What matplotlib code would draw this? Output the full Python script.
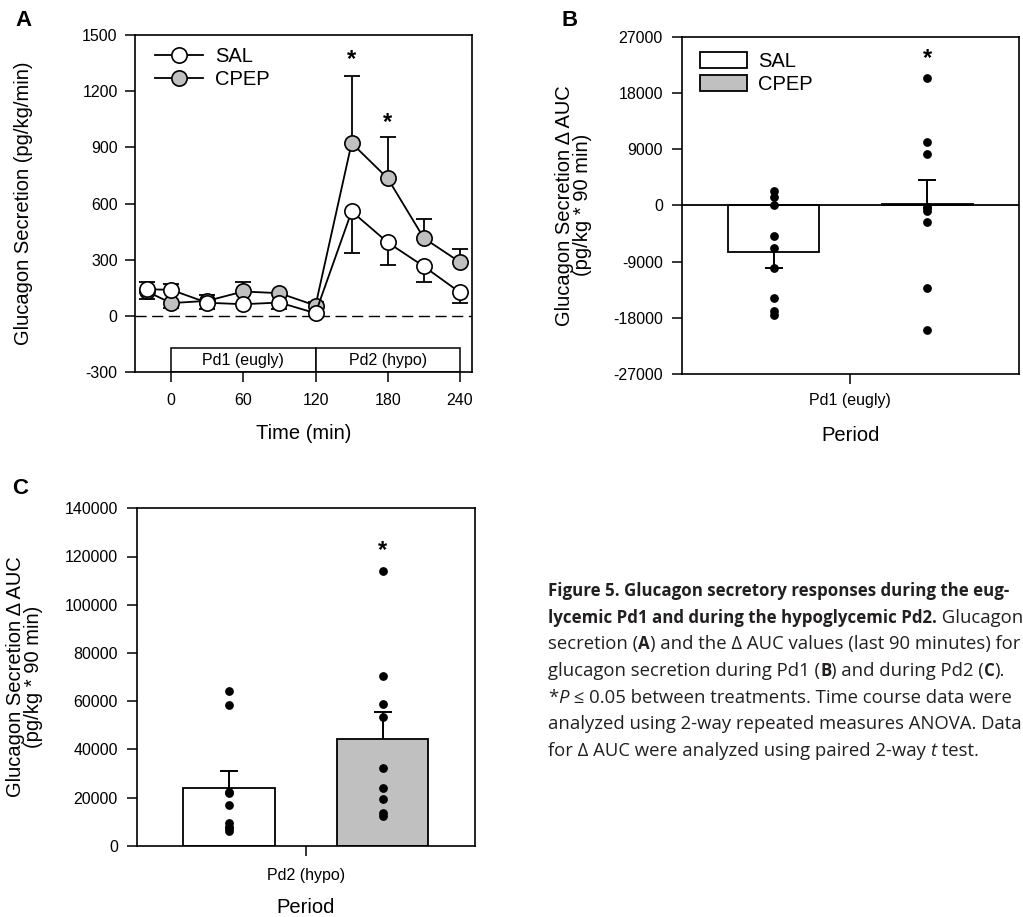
import numpy as np
import matplotlib
matplotlib.use("Agg")
import matplotlib.pyplot as plt
from matplotlib.patches import Rectangle, Patch
from matplotlib.lines import Line2D

plt.rcParams['font.family'] = ['Liberation Sans', 'DejaVu Sans']
plt.rcParams['axes.unicode_minus'] = False

# ---- panel A: time course ----
times = np.array([-20, 0, 30, 60, 90, 120, 150, 180, 210, 240])
sal_mean = np.array([142, 139, 70, 62, 71, 14, 558, 392, 264, 125])
sal_err_lo = np.array([53, 0, 33, 0, 35, 0, 223, 119, 84, 54])
sal_err_hi = np.array([38, 32, 0, 0, 0, 0, 0, 0, 0, 0])
cpep_mean = np.array([130, 68, 80, 130, 121, 55, 923, 734, 415, 287])
cpep_err_lo = np.array([0, 27, 0, 0, 0, 0, 0, 0, 0, 0])
cpep_err_hi = np.array([0, 0, 32, 53, 0, 18, 357, 221, 104, 69])
star_times = [150, 180]
star_y = [1370, 1035]
periods = ["Pd1 (eugly)", "Pd2 (hypo)"]
period_edges = [0, 120, 240]

# ---- panel B: delta AUC Pd1 ----
b_sal_pts = [2300, 1400, 50, -4900, -6800, -10100, -14900, -16900, -17600]
b_cpep_pts = [20400, 10100, 8200, -300, -500, -900, -2700, -13300, -20000]
b_means = [-7500, 150]
b_sems = [2580, 3900]
b_star = 23500

# ---- panel C: delta AUC Pd2 ----
c_sal_pts = [64000, 58200, 22400, 21700, 16900, 9300, 7900, 7400, 6200]
c_cpep_pts = [114100, 70600, 58700, 53300, 32400, 23800, 19200, 13400, 12300]
c_means = [23800, 44100]
c_sems = [7200, 11200]
c_star = 122300

groups = ["SAL", "CPEP"]
colors = ["white", "#c0c0c0"]
W, H = 1023, 917

fig = plt.figure(figsize=(W / 100, H / 100), dpi=100)

def px_axes(l, t, r, b):
    return fig.add_axes([l / W, 1 - b / H, (r - l) / W, (b - t) / H])

def style_axes(ax):
    for s in ax.spines.values():
        s.set_linewidth(1.2)
    ax.tick_params(direction='out', length=7, width=1.1, labelsize=11.5)

def caps(ax, x, y, mask):
    ax.plot(x[mask], y[mask], linestyle='none', marker='_', markersize=12,
            markeredgewidth=1.3, color='black', zorder=2)

# ===== A =====
axA = px_axes(135, 35, 472, 372)
style_axes(axA)
axA.set_xlim(-30, 250)
axA.set_ylim(-300, 1500)
axA.set_yticks(np.arange(-300, 1501, 300))
axA.set_xticks(np.arange(0, 241, 60))
axA.tick_params(axis='y', pad=5.5)
axA.tick_params(axis='x', pad=8)
axA.axhline(0, color='black', linewidth=1.0, dashes=(8, 4), zorder=0)

for mean, lo, hi, col, z in [(cpep_mean, cpep_err_lo, cpep_err_hi, colors[1], 3),
                              (sal_mean, sal_err_lo, sal_err_hi, colors[0], 5)]:
    axA.errorbar(times, mean, yerr=[lo, hi], fmt='none', ecolor='black',
                 elinewidth=1.3, capsize=0, zorder=z - 1)
    caps(axA, times, mean + hi, hi > 0)
    caps(axA, times, mean - lo, lo > 0)
    axA.plot(times, mean, color='black', linewidth=1.3, marker='o', markersize=11,
             markerfacecolor=col, markeredgecolor='black', markeredgewidth=1.2, zorder=z)

for t, y in zip(star_times, star_y):
    axA.text(t, y, "*", ha='center', va='center', fontsize=17, fontweight='bold')

for i, lab in enumerate(periods):
    x0, x1 = period_edges[i], period_edges[i + 1]
    axA.add_patch(Rectangle((x0, -300), x1 - x0, 127, facecolor='white',
                            edgecolor='black', linewidth=1.1, zorder=1))
    axA.text((x0 + x1) / 2, -236, lab, ha='center', va='center', fontsize=11.5)

axA.set_ylabel("Glucagon Secretion (pg/kg/min)", fontsize=14.5)
axA.yaxis.set_label_coords(-0.303, 0.5)
axA.set_xlabel("Time (min)", fontsize=14.5)
axA.xaxis.set_label_coords(0.5, -0.155)

handles = [Line2D([], [], color='black', linewidth=1.3, marker='o', markersize=11,
                  markerfacecolor=c, markeredgecolor='black', markeredgewidth=1.2)
           for c in colors]
axA.legend(handles, groups, loc='upper left', bbox_to_anchor=(0.059, 0.965),
           frameon=False, fontsize=14.5, handlelength=2.4, handletextpad=0.6,
           labelspacing=0.2, borderpad=0, borderaxespad=0)

# ===== bar panels =====
bar_x = [-0.455, 0.455]

def bar_panel(ax, pts_list, means, sems, star, ylim, yticks, cat):
    style_axes(ax)
    ax.set_xlim(-1, 1)
    ax.set_ylim(*ylim)
    ax.set_yticks(yticks)
    ax.set_xticks([0])
    ax.set_xticklabels([cat])
    ax.tick_params(axis='y', pad=6.5)
    for x, m, s, c, pts in zip(bar_x, means, sems, colors, pts_list):
        ax.bar(x, m, width=0.54, color=c, edgecolor='black', linewidth=1.3, zorder=2)
        d = 1 if m >= 0 else -1
        ax.errorbar([x], [m], yerr=[[s if d < 0 else 0], [s if d > 0 else 0]],
                    fmt='none', ecolor='black', elinewidth=1.4, capsize=0, zorder=3)
        ax.plot([x], [m + d * s], linestyle='none', marker='_', markersize=13,
                markeredgewidth=1.4, color='black', zorder=3)
        ax.scatter([x] * len(pts), pts, s=28, color='black', zorder=4)
    ax.text(bar_x[1], star, "*", ha='center', va='center', fontsize=17, fontweight='bold')
    ax.set_xlabel("Period", fontsize=14.5)

axB = px_axes(681.7, 36.7, 1019, 374)
bar_panel(axB, [b_sal_pts, b_cpep_pts], b_means, b_sems, b_star,
          (-27000, 27000), np.arange(-27000, 27001, 9000), "Pd1 (eugly)")
axB.axhline(0, color='black', linewidth=1.3, zorder=2.5)
axB.tick_params(axis='x', pad=6.5)
axB.set_ylabel("Glucagon Secretion \u0394 AUC\n(pg/kg * 90 min)", fontsize=14.5,
               linespacing=0.95)
axB.yaxis.set_label_coords(-0.266, 0.5)
axB.xaxis.set_label_coords(0.5, -0.155)
axB.legend([Patch(facecolor=c, edgecolor='black', linewidth=1.3) for c in colors], groups,
           loc='upper left', bbox_to_anchor=(0.054, 0.955), frameon=False, fontsize=14.5,
           handlelength=2.35, handleheight=0.85, handletextpad=0.55,
           labelspacing=0.2, borderpad=0, borderaxespad=0)

axC = px_axes(136.7, 508.3, 475, 845.7)
bar_panel(axC, [c_sal_pts, c_cpep_pts], c_means, c_sems, c_star,
          (0, 140000), np.arange(0, 140001, 20000), "Pd2 (hypo)")
axC.tick_params(axis='x', pad=9)
axC.set_ylabel("Glucagon Secretion \u0394 AUC\n(pg/kg * 90 min)", fontsize=14.5,
               linespacing=0.95)
axC.yaxis.set_label_coords(-0.277, 0.5)
axC.xaxis.set_label_coords(0.5, -0.155)

# panel letters
for lab, x, y in [("A", 24, 21), ("B", 570, 20), ("C", 20, 489)]:
    fig.text(x / W, 1 - y / H, lab, ha='center', va='center', fontsize=16,
             fontweight='heavy')

# ===== caption =====
cap_font = ['Open Sans', 'DejaVu Sans']
cap_size = {'normal': 13.3, 'bold': 12.2}
cap_color = '#231f20'
caption = [
    [("Figure 5. Glucagon secretory responses during the eug-", 'bold', 'normal')],
    [("lycemic Pd1 and during the hypoglycemic Pd2.", 'bold', 'normal'),
     (" Glucagon", 'normal', 'normal')],
    [("secretion (", 'normal', 'normal'), ("A", 'bold', 'normal'),
     (") and the \u0394 AUC values (last 90 minutes) for", 'normal', 'normal')],
    [("glucagon secretion during Pd1 (", 'normal', 'normal'), ("B", 'bold', 'normal'),
     (") and during Pd2 (", 'normal', 'normal'), ("C", 'bold', 'normal'),
     (").", 'normal', 'normal')],
    [("*", 'normal', 'normal'), ("P", 'normal', 'italic'),
     (" \u2264 0.05 between treatments. Time course data were", 'normal', 'normal')],
    [("analyzed using 2-way repeated measures ANOVA. Data", 'normal', 'normal')],
    [("for \u0394 AUC were analyzed using paired 2-way ", 'normal', 'normal'),
     ("t", 'normal', 'italic'), (" test.", 'normal', 'normal')],
]
renderer = fig.canvas.get_renderer()

def seg_width(s, w, st):
    kw = dict(fontsize=cap_size[w], family=cap_font, fontweight=w, style=st)
    a = fig.text(0, 0, s + "|", **kw)
    b = fig.text(0, 0, "|", **kw)
    wd = a.get_window_extent(renderer).width - b.get_window_extent(renderer).width
    a.remove()
    b.remove()
    return wd

x0, y0, dy = 548, 596, 26.67
for i, line in enumerate(caption):
    x = x0
    for s, w, st in line:
        fig.text(x / W, 1 - (y0 + i * dy) / H, s, fontsize=cap_size[w], family=cap_font,
                 fontweight=w, style=st, va='baseline', ha='left', color=cap_color)
        x += seg_width(s, w, st)

fig.savefig("out.png", dpi=100)
